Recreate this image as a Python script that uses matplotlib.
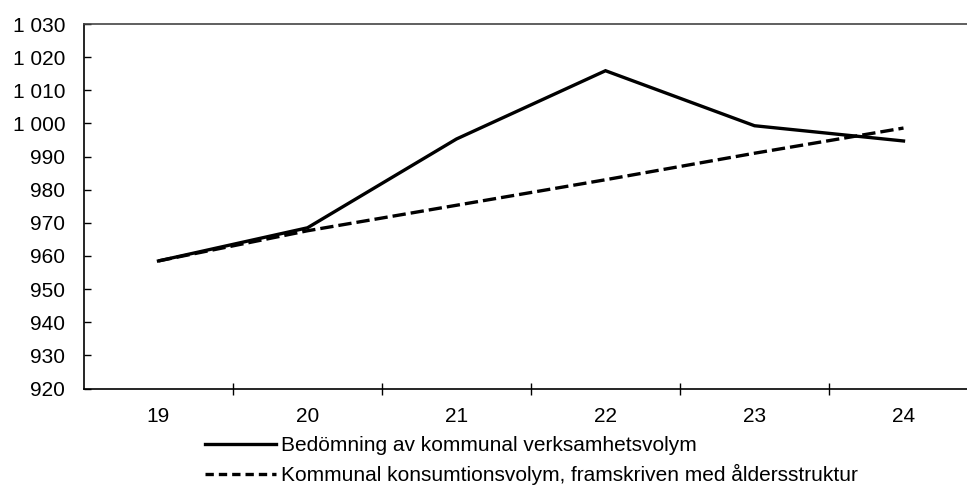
import matplotlib
matplotlib.use("Agg")
import matplotlib.pyplot as plt
from matplotlib.ticker import FuncFormatter, FixedLocator
import numpy as np

# data
years = ["19", "20", "21", "22", "23", "24"]
verksamhet = [958.5, 968.5, 995.3, 1015.9, 999.3, 994.7]
konsumtion = [958.5, 967.6, 975.3, 983.0, 991.0, 998.6]
labels = ["Bedömning av kommunal verksamhetsvolym",
          "Kommunal konsumtionsvolym, framskriven med åldersstruktur"]

plt.rcParams['font.family'] = ['Liberation Sans', 'DejaVu Sans']
plt.rcParams['font.size'] = 15

W, H = 967, 487
fig = plt.figure(figsize=(W / 100, H / 100), dpi=100)
# plot area runs past the right edge of the picture, as in the reference
left, right, top, bottom = 84, 978, 24, 388.5
ax = fig.add_axes([left / W, 1 - bottom / H, (right - left) / W, (bottom - top) / H])

x = np.arange(len(years))
l1, = ax.plot(x, verksamhet, color="black", lw=2.4, solid_joinstyle="miter")
l2, = ax.plot(x, konsumtion, color="black", lw=2.4, dashes=(4, 1.5))

ax.set_xlim(-0.5, len(years) - 0.5)
ax.set_ylim(920, 1030)
ax.set_yticks(np.arange(920, 1031, 10))
ax.yaxis.set_major_formatter(FuncFormatter(lambda v, p: f"{v:,.0f}".replace(",", " ")))
ax.tick_params(axis="y", direction="in", length=5, width=1, pad=13.5)

# boundary ticks between categories, labels in the middle
ax.xaxis.set_major_locator(FixedLocator(x[:-1] + 0.5))
ax.xaxis.set_minor_locator(FixedLocator(x))
ax.set_xticklabels([], minor=False)
ax.set_xticklabels(years, minor=True)
ax.tick_params(axis="x", which="major", direction="inout", length=9, width=1)
ax.tick_params(axis="x", which="minor", length=0, pad=13)

for s in ["left", "bottom"]:
    ax.spines[s].set_color("black")
    ax.spines[s].set_linewidth(1.2)
ax.spines["top"].set_color("#444444")
ax.spines["top"].set_linewidth(1.2)
ax.spines["right"].set_visible(False)

# legend handles with the shorter dash used in the reference legend
h1, = ax.plot([], [], color="black", lw=2.4)
h2, = ax.plot([], [], color="black", lw=2.4, dashes=(2.5, 1.5))
leg = fig.legend([h1, h2], labels, loc="upper left",
                 bbox_to_anchor=(205 / W, 1 - 436 / H), frameon=False,
                 borderpad=0, borderaxespad=0, handlelength=3.4,
                 handletextpad=0.25, labelspacing=0.42)

fig.savefig("out.png", dpi=100)
